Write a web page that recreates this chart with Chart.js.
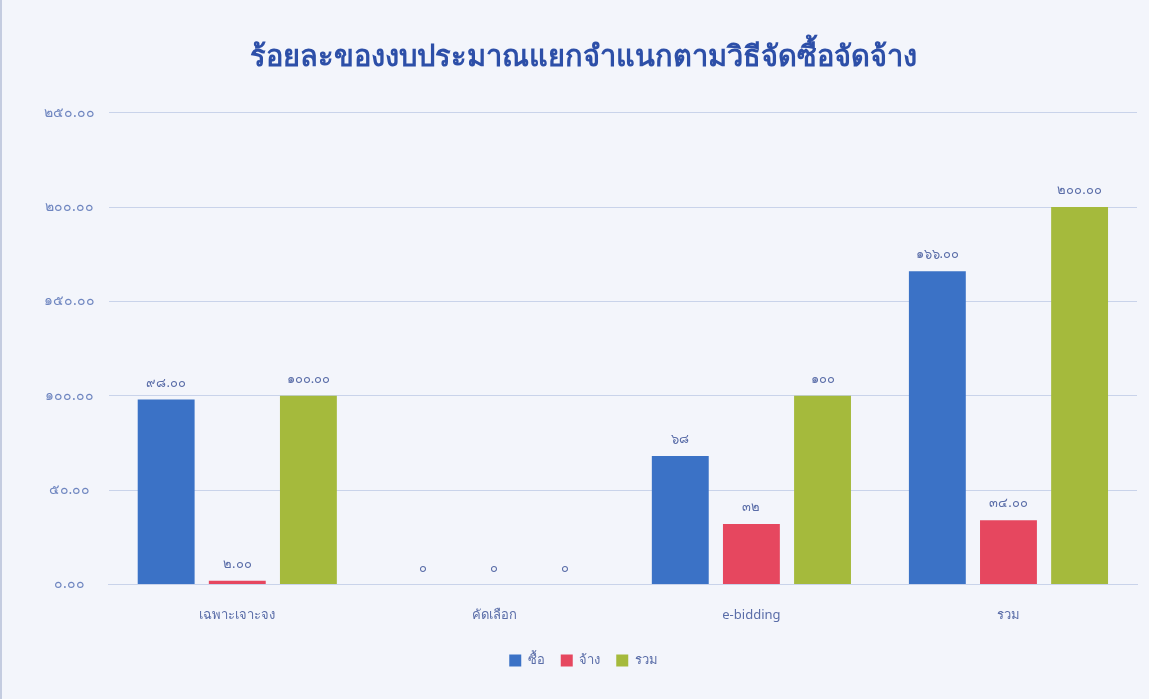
<!DOCTYPE html>
<html>
<head>
<meta charset="utf-8">
<script src="https://cdn.jsdelivr.net/npm/chart.js@4/dist/chart.umd.min.js"></script>
<style>
  html, body { margin: 0; padding: 0; background: #f3f5fb; }
  #wrap { width: 1149px; height: 699px; position: relative; border-left: 2px solid #c4cce0; box-sizing: border-box; }
</style>
</head>
<body>
<div id="wrap"><canvas id="procChart"></canvas></div>
<script>
// categories and series
const categories = ['เฉพาะเจาะจง', 'คัดเลือก', 'e-bidding', 'รวม'];
const buyValues = [98, 0, 68, 166];
const hireValues = [2, 0, 32, 34];
const totalValues = [100, 0, 100, 200];
// labels as printed above each bar
const buyLabels = ['98.00', '0', '68', '166.00'];
const hireLabels = ['2.00', '0', '32', '34.00'];
const totalLabels = ['100.00', '0', '100', '200.00'];
const yTicks = [0, 50, 100, 150, 200, 250];

function thaiDigits(s) {
    return String(s).replace(/[0-9]/g, d => '๐๑๒๓๔๕๖๗๘๙'[d]);
}

// draws the value above each bar
const barLabels = {
    id: 'barLabels',
    afterDatasetsDraw(chart) {
        const ctx = chart.ctx;
        ctx.save();
        ctx.font = '13px "Noto Sans", sans-serif';
        ctx.fillStyle = '#5a6da8';
        ctx.textAlign = 'center';
        ctx.textBaseline = 'bottom';
        chart.data.datasets.forEach((ds, i) => {
            chart.getDatasetMeta(i).data.forEach((bar, j) => {
                ctx.fillText(thaiDigits(ds.valueLabels[j]), bar.x, bar.y - 10);
            });
        });
        ctx.restore();
    }
};

const ctx = document.getElementById('procChart').getContext('2d');
new Chart(ctx, {
    type: 'bar',
    data: {
        labels: categories,
        datasets: [
            { label: 'ซื้อ', data: buyValues, valueLabels: buyLabels, backgroundColor: '#3b72c6' },
            { label: 'จ้าง', data: hireValues, valueLabels: hireLabels, backgroundColor: '#e6475f' },
            { label: 'รวม', data: totalValues, valueLabels: totalLabels, backgroundColor: '#a5ba3c' }
        ]
    },
    options: {
        responsive: true,
        maintainAspectRatio: false,
        animation: false,
        layout: { padding: { left: 28, right: 12, top: 34, bottom: 22 } },
        datasets: { bar: { categoryPercentage: 0.83, barPercentage: 0.8 } },
        scales: {
            x: {
                grid: { display: false },
                border: { color: '#c9d3ea' },
                ticks: { color: '#5a6da8', font: { size: 13, family: '"Noto Sans", sans-serif' }, padding: 15 }
            },
            y: {
                min: 0,
                max: 250,
                afterBuildTicks: axis => { axis.ticks = yTicks.map(v => ({ value: v })); },
                grid: { color: '#c9d3ea', drawTicks: false },
                border: { display: false },
                ticks: {
                    color: '#6f86c0',
                    padding: 14,
                    crossAlign: 'center',
                    font: { size: 14, family: '"Noto Sans", sans-serif' },
                    callback: v => thaiDigits(v.toFixed(2))
                }
            }
        },
        plugins: {
            title: {
                display: true,
                text: 'ร้อยละของงบประมาณแยกจำแนกตามวิธีจัดซื้อจัดจ้าง',
                color: '#2d4fa8',
                font: { size: 29, weight: 'bold', family: '"Noto Sans", sans-serif' },
                padding: { top: 6, bottom: 38 }
            },
            legend: {
                position: 'bottom',
                labels: { boxWidth: 12, boxHeight: 12, color: '#5a6da8', font: { size: 13 }, padding: 16 }
            },
            tooltip: { enabled: false }
        }
    },
    plugins: [barLabels]
});
</script>
</body>
</html>
